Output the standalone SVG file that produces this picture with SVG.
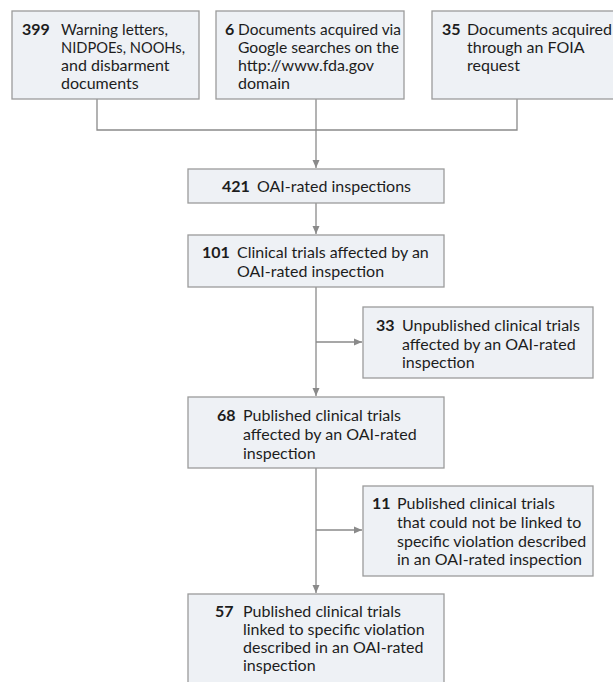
<svg xmlns="http://www.w3.org/2000/svg" width="613" height="682" viewBox="0 0 613 682">
<defs>
<marker id="ah" viewBox="0 0 8 8" refX="8" refY="4" markerWidth="8" markerHeight="8" markerUnits="userSpaceOnUse" orient="auto">
<path d="M0,0.5 L8,4 L0,7.5 z" fill="#8a8a8a"/>
</marker>
<style>
.box{fill:#eef1f5;stroke:#9b9b9b;stroke-width:1.3}
.t{font-family:Lato,"Liberation Sans",sans-serif;font-size:16px;fill:#1d1d1d}
.n{font-weight:bold}
.c{fill:none;stroke:#8a8a8a;stroke-width:1.3}
</style>
</defs>
<rect width="613" height="682" fill="#ffffff"/>
<g id="connectors">
<path class="c" d="M97,99 V130 H517 V99"/>
<path class="c" d="M316,99 V168" marker-end="url(#ah)"/>
<path class="c" d="M316,203 V234" marker-end="url(#ah)"/>
<path class="c" d="M316,287 V396" marker-end="url(#ah)"/>
<path class="c" d="M316,342 H362" marker-end="url(#ah)"/>
<path class="c" d="M316,468 V593" marker-end="url(#ah)"/>
<path class="c" d="M316,530 H362" marker-end="url(#ah)"/>
</g>
<g id="n399">
<rect class="box" x="12" y="11" width="187" height="88"/>
<text class="t"><tspan class="n" x="22" y="35">399</tspan></text>
<text class="t" x="61" y="35" textLength="107" lengthAdjust="spacingAndGlyphs">Warning letters,</text>
<text class="t" x="61" y="53" textLength="124" lengthAdjust="spacingAndGlyphs">NIDPOEs, NOOHs,</text>
<text class="t"><tspan x="61" y="71">and disbarment</tspan><tspan x="61" y="89">documents</tspan></text>
</g>
<g id="n6">
<rect class="box" x="216" y="11" width="188" height="88"/>
<text class="t"><tspan class="n" x="225" y="35">6</tspan></text>
<text class="t" x="238" y="35" textLength="163" lengthAdjust="spacingAndGlyphs">Documents acquired via</text>
<text class="t" x="238" y="53" textLength="161" lengthAdjust="spacingAndGlyphs">Google searches on the</text>
<text class="t"><tspan x="238" y="71">http://www.fda.gov</tspan><tspan x="238" y="89">domain</tspan></text>
</g>
<g id="n35">
<rect class="box" x="432" y="11" width="190" height="88"/>
<text class="t"><tspan class="n" x="442" y="35">35</tspan><tspan x="467" y="35">Documents acquired</tspan><tspan x="467" y="53">through an FOIA</tspan><tspan x="467" y="71">request</tspan></text>
</g>
<g id="n421">
<rect class="box" x="188" y="169" width="256" height="34"/>
<text class="t"><tspan class="n" x="222" y="192">421</tspan><tspan x="257" y="192">OAI-rated inspections</tspan></text>
</g>
<g id="n101">
<rect class="box" x="188" y="235" width="256" height="52"/>
<text class="t"><tspan class="n" x="202" y="258">101</tspan><tspan x="237" y="258">Clinical trials affected by an</tspan><tspan x="237" y="277">OAI-rated inspection</tspan></text>
</g>
<g id="n33">
<rect class="box" x="363" y="307" width="230" height="71"/>
<text class="t"><tspan class="n" x="376" y="331">33</tspan><tspan x="402" y="331">Unpublished clinical trials</tspan><tspan x="402" y="350">affected by an OAI-rated</tspan><tspan x="402" y="368">inspection</tspan></text>
</g>
<g id="n68">
<rect class="box" x="188" y="397" width="256" height="71"/>
<text class="t"><tspan class="n" x="217" y="421">68</tspan><tspan x="243" y="421">Published clinical trials</tspan><tspan x="243" y="440">affected by an OAI-rated</tspan><tspan x="243" y="459">inspection</tspan></text>
</g>
<g id="n11">
<rect class="box" x="363" y="486" width="230" height="90"/>
<text class="t"><tspan class="n" x="372" y="509">11</tspan><tspan x="397" y="509">Published clinical trials</tspan><tspan x="397" y="528">that could not be linked to</tspan><tspan x="397" y="547">specific violation described</tspan><tspan x="397" y="565">in an OAI-rated inspection</tspan></text>
</g>
<g id="n57">
<rect class="box" x="188" y="594" width="256" height="95"/>
<text class="t"><tspan class="n" x="215" y="617">57</tspan><tspan x="243" y="617">Published clinical trials</tspan><tspan x="243" y="635">linked to specific violation</tspan><tspan x="243" y="653">described in an OAI-rated</tspan><tspan x="243" y="671">inspection</tspan></text>
</g>
</svg>
